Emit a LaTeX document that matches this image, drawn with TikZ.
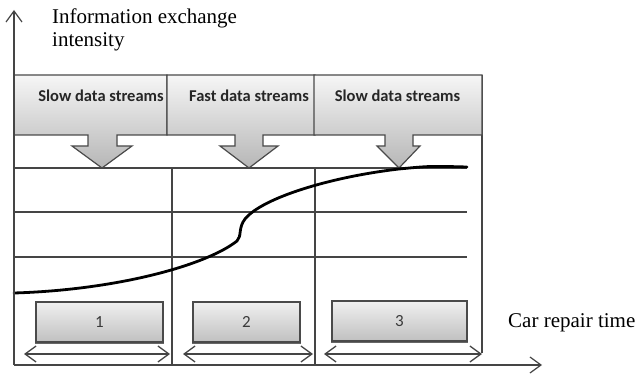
\documentclass[tikz,border=0pt]{standalone}
\usepackage{fontspec}
\setmainfont{Liberation Serif}
\newfontfamily\calibri{Carlito}
\usetikzlibrary{arrows.meta}
\definecolor{lineg}{HTML}{454545}
\definecolor{boxedge}{HTML}{4A4A4A}
\definecolor{shadetop}{HTML}{F6F6F6}
\definecolor{shadebot}{HTML}{B6B6B6}
\definecolor{phasetop}{HTML}{F0F0F0}
\definecolor{phasebot}{HTML}{C0C0C0}
\definecolor{numcol}{HTML}{3A3A3A}
\tikzset{
  barb/.tip={Straight Barb[length=11pt,width=16pt]},
  gridline/.style={draw=lineg, line width=1.1pt},
  axisline/.style={draw=lineg, line width=1.2pt, -barb},
  spanarrow/.style={draw=lineg, line width=1.3pt, barb-barb},
  callout/.style={draw=boxedge, line width=1.2pt, top color=shadetop, bottom color=shadebot, line join=miter},
  streamlabel/.style={font=\calibri\bfseries\fontsize{16.5}{18}\selectfont, text=black!85, anchor=base, inner sep=0pt},
  phasebox/.style={draw=boxedge, line width=1.1pt, top color=phasetop, bottom color=phasebot,
    minimum height=40pt, inner sep=0pt, font=\calibri\fontsize{17}{19}\selectfont, text=numcol},
  axislabel/.style={font=\fontsize{21}{23}\selectfont, inner sep=0pt, anchor=base west},
}
% rectangle with a downward arrow under it:
% left, right, stem left, stem right, head left, head right, tip x
\newcommand\streambox[7]{%
  \path[callout] (#1,75) -- (#2,75) -- (#2,135) -- (#4,135) -- (#4,146) -- (#6,146)
    -- (#7,168) -- (#5,146) -- (#3,146) -- (#3,135) -- (#1,135) -- cycle;}
\begin{document}
\begin{tikzpicture}[x=1pt, y=-1pt]
\useasboundingbox (0,0) rectangle (635,374);

% axes
\coordinate (origin) at (14,365);
\coordinate (ytop) at (14,10);
\coordinate (xend) at (542,365);

% horizontal levels
\foreach \yy [count=\i] in {168,212,257} {
  \coordinate (gl\i) at (14,\yy);
  \coordinate (gr\i) at (467,\yy);
  \draw[gridline] (gl\i) -- (gr\i);
}

% stage dividers and right border
\coordinate (d1t) at (172,168); \coordinate (d1b) at (172,365);
\coordinate (d2t) at (315,168); \coordinate (d2b) at (315,365);
\coordinate (frt) at (482,75);  \coordinate (frb) at (482,353);
\draw[gridline] (d1t) -- (d1b);
\draw[gridline] (d2t) -- (d2b);
\draw[gridline] (frt) -- (frb);

% data stream callouts
\streambox{14}{167}{88}{117}{72}{132}{102}
\streambox{167}{315}{235}{263}{220}{278}{249}
\streambox{314}{482}{385}{413}{377}{420}{399}
\node[streamlabel] (s1) at (101,102) {Slow data streams};
\node[streamlabel] (s2) at (249,102) {Fast data streams};
\node[streamlabel] (s3) at (397.5,102) {Slow data streams};

% information exchange intensity curve
\coordinate (c0) at (14,293);
\coordinate (c1) at (237,241);
\coordinate (c2) at (245,219);
\coordinate (c3) at (399,169);
\coordinate (c4) at (467,167);
\draw[black, line width=2.8pt, line cap=round]
  (c0) .. controls (115,290) and (205,266) .. (c1)
       .. controls (242,236) and (238,228) .. (c2)
       .. controls (262,198) and (330,177) .. (c3)
       .. controls (430,166) .. (c4);

% repair stages
\node[phasebox, minimum width=127pt] (p1) at (99.5,322) {1};
\node[phasebox, minimum width=107pt] (p2) at (246.5,322) {2};
\node[phasebox, minimum width=135pt] (p3) at (399.5,321) {3};
\foreach \n in {p1,p2,p3}
  \draw[draw=black!60, line width=1.8pt] ([yshift=-1pt]\n.south west) -- ([yshift=-1pt]\n.south east);

% stage durations
\coordinate (a1l) at (24,354);  \coordinate (a1r) at (170,354);
\coordinate (a2l) at (183,354); \coordinate (a2r) at (313,354);
\coordinate (a3l) at (324,354); \coordinate (a3r) at (482,354);
\draw[spanarrow] (a1l) -- (a1r);
\draw[spanarrow] (a2l) -- (a2r);
\draw[spanarrow] (a3l) -- (a3r);

% axes on top
\draw[axisline] (origin) -- (ytop);
\draw[axisline] (origin) -- (xend);

% axis titles
\node[axislabel] (ytitle) at (52,24) {Information exchange};
\node[axislabel] (ytitle2) at (52,47) {intensity};
\node[axislabel] (xtitle) at (508,327) {Car repair time};
\end{tikzpicture}
\end{document}
